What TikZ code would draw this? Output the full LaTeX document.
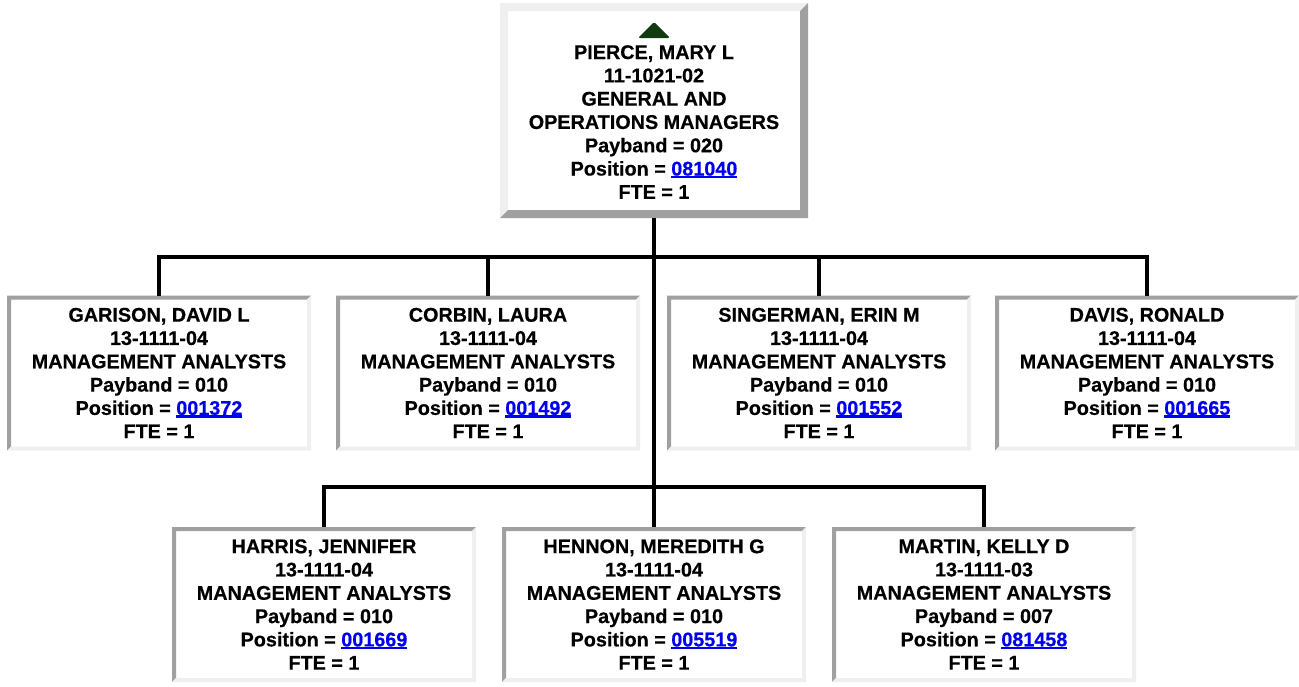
\documentclass[tikz,border=0pt]{standalone}
\usepackage{fontspec}
\setmainfont{Liberation Sans}[BoldFeatures={FakeBold=0.5}]
\usetikzlibrary{calc}
\definecolor{bvdark}{HTML}{A0A0A0}
\definecolor{bvlight}{HTML}{EFEFEF}
\definecolor{linkblue}{HTML}{0000EE}
\definecolor{trigreen}{HTML}{123A12}
\newcommand\poslink[1]{\textcolor{linkblue}{\setbox0\hbox{#1}\rlap{\raisebox{-2.8pt}{\rule{\wd0}{2.3pt}}}\box0}}
\tikzset{
  bevel/.style n args={3}{path picture={
    \path (path picture bounding box.north west) coordinate (ppnw)
          (path picture bounding box.south east) coordinate (ppse)
          (ppnw -| ppse) coordinate (ppne)
          (ppse -| ppnw) coordinate (ppsw);
    \fill[#2] (ppnw) -- (ppne) -- ($(ppne)+(-#1,#1)$) -- ($(ppnw)+(#1,#1)$)
              -- ($(ppsw)+(#1,-#1)$) -- (ppsw) -- cycle;
    \fill[#3] (ppse) -- (ppne) -- ($(ppne)+(-#1,#1)$) -- ($(ppse)+(-#1,-#1)$)
              -- ($(ppsw)+(#1,-#1)$) -- (ppsw) -- cycle;
  }},
  txt/.style={font=\fontsize{19.8pt}{23.3pt}\selectfont\bfseries, align=center, inner sep=0pt},
  emp/.style={txt, fill=white, outer sep=0pt, minimum width=304pt, minimum height=155pt,
              bevel={4}{bvdark}{bvlight}},
  boss/.style={fill=white, outer sep=0pt, inner sep=0pt, minimum width=308pt, minimum height=215pt,
              bevel={8}{bvlight}{bvdark}},
  conn/.style={line width=3.5pt, black},
}
\begin{document}
\begin{tikzpicture}[x=1pt, y=-1pt]
\useasboundingbox (0,0) rectangle (1299,686);
% top box
\node[boss] (b0) at (654,110.5) {};
\node[txt] (t0) at (654,122) {PIERCE, MARY L\\11-1021-02\\GENERAL AND\\OPERATIONS MANAGERS\\Payband = 020\\Position = \poslink{081040}\\FTE = 1};
\fill[trigreen, rounded corners=1.5pt] (638,38) -- (670,38) -- (654,22) -- cycle;
% row 1
\node[emp] (b1) at (159,373) {GARISON, DAVID L\\13-1111-04\\MANAGEMENT ANALYSTS\\Payband = 010\\Position = \poslink{001372}\\FTE = 1};
\node[emp] (b2) at (488,373) {CORBIN, LAURA\\13-1111-04\\MANAGEMENT ANALYSTS\\Payband = 010\\Position = \poslink{001492}\\FTE = 1};
\node[emp] (b3) at (819,373) {SINGERMAN, ERIN M\\13-1111-04\\MANAGEMENT ANALYSTS\\Payband = 010\\Position = \poslink{001552}\\FTE = 1};
\node[emp] (b4) at (1147,373) {DAVIS, RONALD\\13-1111-04\\MANAGEMENT ANALYSTS\\Payband = 010\\Position = \poslink{001665}\\FTE = 1};
% row 2
\node[emp] (b5) at (324,604.5) {HARRIS, JENNIFER\\13-1111-04\\MANAGEMENT ANALYSTS\\Payband = 010\\Position = \poslink{001669}\\FTE = 1};
\node[emp] (b6) at (654,604.5) {HENNON, MEREDITH G\\13-1111-04\\MANAGEMENT ANALYSTS\\Payband = 010\\Position = \poslink{005519}\\FTE = 1};
\node[emp] (b7) at (984,604.5) {MARTIN, KELLY D\\13-1111-03\\MANAGEMENT ANALYSTS\\Payband = 007\\Position = \poslink{081458}\\FTE = 1};
% connectors
\coordinate (j1) at (654,257);
\coordinate (j2) at (654,487);
\draw[conn] (b0.south) -- (b6.north);
\draw[conn] (j1) -| (b1.north);
\draw[conn] (j1) -| (b2.north);
\draw[conn] (j1) -| (b3.north);
\draw[conn] (j1) -| (b4.north);
\draw[conn] (j2) -| (b5.north);
\draw[conn] (j2) -| (b7.north);
\end{tikzpicture}
\end{document}
